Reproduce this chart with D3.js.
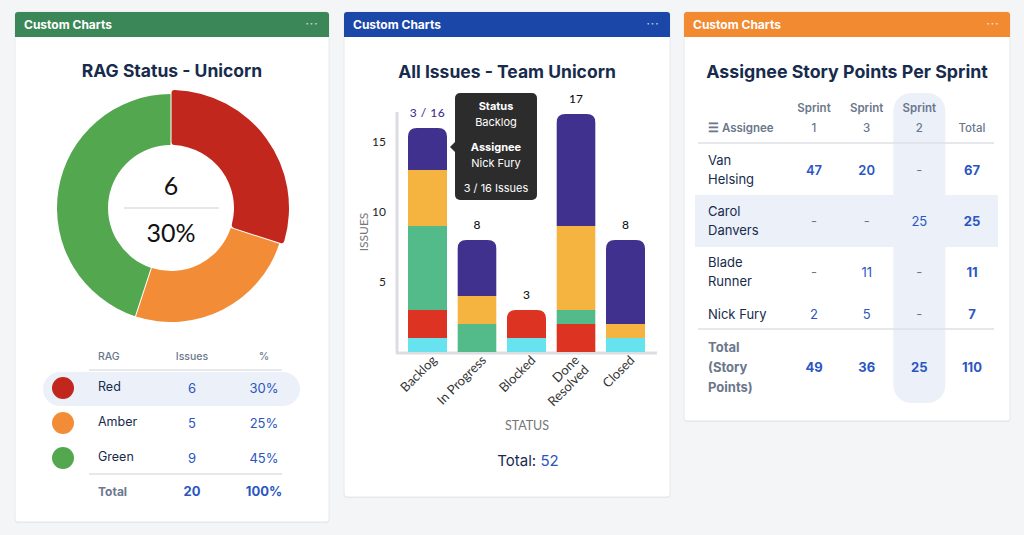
<!DOCTYPE html>
<html>
<head>
<meta charset="utf-8">
<script src="https://cdn.jsdelivr.net/npm/d3@7"></script>
<style>
  html, body { margin: 0; padding: 0; background: #f4f5f7; }
  svg { display: block; font-family: Inter, "Noto Sans", sans-serif; }
</style>
</head>
<body>
<svg id="svg" width="1024" height="535"></svg>
<script>
//Data
const RAG_NAMES = ["Red", "Amber", "Green"];
const RAG_COUNTS = [6, 5, 9];
const RAG_COLORS = ["#c1271d", "#f28c36", "#53a84f"];

const STATUSES = ["Backlog", "In Progress", "Blocked", "Done Resolved", "Closed"];
const STACK_KEYS = ["Blade Runner", "Van Helsing", "Carol Danvers", "Unassigned", "Nick Fury"];
const STACK_COLORS = ["#66e3ef", "#dd3322", "#53bb8a", "#f5b43f", "#40318f"];
const SERIES_BLADE = [1, 0, 1, 0, 1];
const SERIES_VAN = [2, 0, 2, 2, 0];
const SERIES_CAROL = [6, 2, 0, 1, 0];
const SERIES_UNASSIGNED = [4, 2, 0, 6, 1];
const SERIES_NICK = [3, 4, 0, 8, 6];
const Y_TICKS = [5, 10, 15];

const ASSIGNEES = ["Van Helsing", "Carol Danvers", "Blade Runner", "Nick Fury"];
const SPRINT_COLUMNS = ["Sprint 1", "Sprint 3", "Sprint 2"];
const SPRINT_1 = [47, null, null, 2];
const SPRINT_3 = [20, null, 11, 5];
const SPRINT_2 = [null, 25, null, null];

const BLUE = "#2b56c2";
const NAVY = "#172b4d";
const GREY = "#6b778c";
const CHART_FONT = "Lato, 'Open Sans', sans-serif";

const svg = d3.select("#svg");

//Cards
function drawCard(x, y, w, h, color)
{
    let g = svg.append("g");
    g.append("rect").attr("x", x).attr("y", y + 1).attr("width", w).attr("height", h)
        .attr("rx", 3).attr("fill", "#000").attr("opacity", 0.06);
    g.append("rect").attr("x", x).attr("y", y).attr("width", w).attr("height", h)
        .attr("rx", 3).attr("fill", "#fff").attr("stroke", "#e6e8eb");
    g.append("path")
        .attr("d", `M${x},${y + 25} V${y + 3} Q${x},${y} ${x + 3},${y} H${x + w - 3} Q${x + w},${y} ${x + w},${y + 3} V${y + 25} Z`)
        .attr("fill", color);
    g.append("text").attr("x", x + 9).attr("y", y + 17)
        .attr("fill", "#fff").attr("font-size", 12).attr("font-weight", 700)
        .text("Custom Charts");
    g.append("text").attr("x", x + w - 17).attr("y", y + 15).attr("text-anchor", "middle")
        .attr("fill", "#fff").attr("opacity", 0.7).attr("font-size", 10).attr("font-weight", 700)
        .attr("letter-spacing", 1).text("···");
}
drawCard(15, 12, 314, 510, "#3b8757");
drawCard(344, 12, 326, 485, "#1b47a9");
drawCard(684, 12, 326, 409, "#f28a32");

//RAG donut
function drawRag()
{
    let g = svg.append("g");
    g.append("text").attr("x", 172).attr("y", 77).attr("text-anchor", "middle")
        .attr("font-size", 17.5).attr("font-weight", 700).attr("fill", NAVY)
        .text("RAG Status - Unicorn");

    let pie = d3.pie().sort(null).padAngle(0.008)(RAG_COUNTS);
    let center = g.append("g").attr("transform", "translate(171, 208)");
    center.selectAll("path").data(pie).enter().append("path")
        .attr("d", (d, i) => d3.arc().innerRadius(63).outerRadius(i === 0 ? 118 : 114).cornerRadius(i === 0 ? 3 : 0)(d))
        .attr("fill", (d, i) => RAG_COLORS[i]);

    let total = d3.sum(RAG_COUNTS);
    center.append("text").attr("y", -13).attr("text-anchor", "middle")
        .attr("font-family", CHART_FONT).attr("font-size", 25).attr("fill", "#111")
        .text(RAG_COUNTS[0]);
    center.append("line").attr("x1", -47).attr("x2", 48).attr("y1", 0).attr("y2", 0)
        .attr("stroke", "#cfcfcf").attr("stroke-width", 1.2);
    center.append("text").attr("y", 34).attr("text-anchor", "middle")
        .attr("font-family", CHART_FONT).attr("font-size", 25).attr("fill", "#111")
        .text(Math.round(RAG_COUNTS[0] / total * 100) + "%");

    //Legend table
    let rowY = d3.scalePoint().domain(RAG_NAMES).range([388, 458]);
    g.append("rect").attr("x", 43).attr("y", 372).attr("width", 257).attr("height", 34)
        .attr("rx", 17).attr("fill", "#ecf1f9");
    [["RAG", 98, "start"], ["Issues", 192, "middle"], ["%", 264, "middle"]].forEach(h => {
        g.append("text").attr("x", h[1]).attr("y", 360).attr("text-anchor", h[2])
            .attr("font-size", 10.5).attr("font-weight", 500).attr("fill", GREY).text(h[0]);
    });
    g.append("line").attr("x1", 89).attr("x2", 282).attr("y1", 370).attr("y2", 370).attr("stroke", "#dfe1e6").attr("stroke-width", 1.5);
    g.append("line").attr("x1", 89).attr("x2", 282).attr("y1", 474).attr("y2", 474).attr("stroke", "#dfe1e6").attr("stroke-width", 1.5);

    RAG_NAMES.forEach((name, i) => {
        let y = rowY(name);
        g.append("circle").attr("cx", 63).attr("cy", y).attr("r", 11).attr("fill", RAG_COLORS[i]);
        g.append("text").attr("x", 98).attr("y", y + 3).attr("font-size", 12.5).attr("fill", NAVY).text(name);
        g.append("text").attr("x", 192).attr("y", y + 5).attr("text-anchor", "middle")
            .attr("font-size", 13).attr("fill", BLUE).text(RAG_COUNTS[i]);
        g.append("text").attr("x", 264).attr("y", y + 5).attr("text-anchor", "middle")
            .attr("font-size", 13).attr("fill", BLUE).text(Math.round(RAG_COUNTS[i] / total * 100) + "%");
    });
    g.append("text").attr("x", 98).attr("y", 496).attr("font-size", 12).attr("font-weight", 700).attr("fill", GREY).text("Total");
    g.append("text").attr("x", 192).attr("y", 496).attr("text-anchor", "middle").attr("font-size", 13).attr("font-weight", 700).attr("fill", BLUE).text(total);
    g.append("text").attr("x", 264).attr("y", 496).attr("text-anchor", "middle").attr("font-size", 13).attr("font-weight", 700).attr("fill", BLUE).text("100%");
}

//Stacked bar chart
function topRounded(x, y, w, h, r)
{
    return `M${x},${y + h} V${y + r} Q${x},${y} ${x + r},${y} H${x + w - r} Q${x + w},${y} ${x + w},${y + r} V${y + h} Z`;
}

function drawBars()
{
    let g = svg.append("g");
    g.append("text").attr("x", 507).attr("y", 78).attr("text-anchor", "middle")
        .attr("font-size", 17.5).attr("font-weight", 700).attr("fill", NAVY)
        .text("All Issues - Team Unicorn");

    let rows = STATUSES.map((s, i) => ({
        status: s,
        "Blade Runner": SERIES_BLADE[i],
        "Van Helsing": SERIES_VAN[i],
        "Carol Danvers": SERIES_CAROL[i],
        "Unassigned": SERIES_UNASSIGNED[i],
        "Nick Fury": SERIES_NICK[i]
    }));
    let totals = rows.map(r => d3.sum(STACK_KEYS, k => r[k]));
    let stack = d3.stack().keys(STACK_KEYS)(rows);

    let x = d3.scaleBand().domain(STATUSES).range([401.5, 651.5]).paddingInner(0.21).paddingOuter(0.13);
    let y = d3.scaleLinear().domain([0, 17]).range([352, 114]);

    //axis lines
    g.append("line").attr("x1", 397).attr("x2", 397).attr("y1", 112).attr("y2", 353).attr("stroke", "#dcdde0").attr("stroke-width", 3);
    g.append("line").attr("x1", 396).attr("x2", 657).attr("y1", 353).attr("y2", 353).attr("stroke", "#dcdde0").attr("stroke-width", 3);

    let yAxis = g.append("g").attr("transform", "translate(389, 0)")
        .call(d3.axisLeft(y).tickValues(Y_TICKS).tickSize(0));
    yAxis.select(".domain").remove();
    yAxis.selectAll("text").attr("font-family", CHART_FONT).attr("font-size", 12).attr("fill", "#222");

    //clip paths
    let defs = svg.append("defs");
    STATUSES.forEach((s, i) => {
        defs.append("clipPath").attr("id", "bar" + i).append("path")
            .attr("d", topRounded(x(s), y(totals[i]), x.bandwidth(), y(0) - y(totals[i]), 9));
    });

    stack.forEach((layer, k) => {
        g.append("g").selectAll("rect").data(layer).enter().append("rect")
            .attr("clip-path", (d, i) => `url(#bar${i})`)
            .attr("x", d => x(d.data.status))
            .attr("y", d => y(d[1]))
            .attr("width", x.bandwidth())
            .attr("height", d => y(d[0]) - y(d[1]))
            .attr("fill", STACK_COLORS[k]);
    });

    //value labels
    STATUSES.forEach((s, i) => {
        let hovered = i === 0;
        g.append("text").attr("x", x(s) + x.bandwidth() / 2).attr("y", y(totals[i]) - 11)
            .attr("text-anchor", "middle").attr("font-family", CHART_FONT).attr("font-size", 12)
            .attr("font-weight", 500).attr("letter-spacing", hovered ? 0.5 : 0)
            .attr("fill", hovered ? "#3b3591" : "#111")
            .text(hovered ? SERIES_NICK[0] + " / " + totals[0] : totals[i]);
    });

    //x labels
    STATUSES.forEach((s, i) => {
        let lines = s === "Done Resolved" ? ["Done", "Resolved"] : [s];
        let cx = x(s) + x.bandwidth() / 2 + (lines.length > 1 ? 4 : 10);
        let t = g.append("text").attr("transform", `translate(${cx}, 361) rotate(-45)`)
            .attr("text-anchor", "end").attr("font-family", CHART_FONT).attr("font-size", 13).attr("fill", "#333");
        lines.forEach((l, j) => {
            t.append("tspan").attr("x", 0).attr("dy", j === 0 ? 0 : "1.05em").text(l);
        });
    });

    g.append("text").attr("transform", "translate(368, 232) rotate(-90)").attr("text-anchor", "middle")
        .attr("font-family", CHART_FONT).attr("font-size", 12).attr("fill", "#777").text("ISSUES");
    g.append("text").attr("x", 527).attr("y", 430).attr("text-anchor", "middle")
        .attr("font-family", CHART_FONT).attr("font-size", 12.5).attr("fill", "#777").text("STATUS");

    let tot = g.append("text").attr("x", 528).attr("y", 466).attr("text-anchor", "middle").attr("font-size", 15);
    tot.append("tspan").attr("fill", NAVY).text("Total: ");
    tot.append("tspan").attr("fill", BLUE).text(d3.sum(totals));

    //tooltip
    let tip = g.append("g");
    tip.append("rect").attr("x", 455).attr("y", 93).attr("width", 82).attr("height", 107).attr("rx", 5).attr("fill", "#2c2c2c");
    tip.append("path").attr("d", "M455,142 L450,147 L455,152 Z").attr("fill", "#2c2c2c");
    [["Status", 110, 700], ["Backlog", 126, 400], ["Assignee", 151, 700], ["Nick Fury", 167, 400], [SERIES_NICK[0] + " / " + totals[0] + " Issues", 192, 400]]
        .forEach(t => {
            tip.append("text").attr("x", 496).attr("y", t[1]).attr("text-anchor", "middle")
                .attr("font-size", 11).attr("font-weight", t[2]).attr("fill", "#fff").text(t[0]);
        });
}

//Story points table
function drawTable()
{
    let g = svg.append("g");
    g.append("text").attr("x", 847).attr("y", 78).attr("text-anchor", "middle")
        .attr("font-size", 17.8).attr("font-weight", 700).attr("fill", NAVY)
        .text("Assignee Story Points Per Sprint");

    let columns = SPRINT_COLUMNS.concat(["Total"]);
    let colX = d3.scalePoint().domain(columns).range([814, 972]);
    let sprintValues = [SPRINT_1, SPRINT_3, SPRINT_2];
    let rowTotals = ASSIGNEES.map((a, i) => d3.sum(sprintValues, s => s[i] || 0));
    let colTotals = sprintValues.map(s => d3.sum(s));
    let grand = d3.sum(rowTotals);

    //highlights
    g.append("rect").attr("x", colX("Sprint 2") - 26).attr("y", 93).attr("width", 52).attr("height", 310).attr("rx", 18).attr("fill", "#ebf0f9");
    g.append("rect").attr("x", 695).attr("y", 195).attr("width", 303).attr("height", 52).attr("fill", "#ebf0f9");

    //header
    SPRINT_COLUMNS.forEach(c => {
        let parts = c.split(" ");
        g.append("text").attr("x", colX(c)).attr("y", 112).attr("text-anchor", "middle")
            .attr("font-size", 11.5).attr("font-weight", 600).attr("fill", GREY).text(parts[0]);
        g.append("text").attr("x", colX(c)).attr("y", 132).attr("text-anchor", "middle")
            .attr("font-size", 11.5).attr("font-weight", 500).attr("fill", GREY).text(parts[1]);
    });
    g.append("text").attr("x", colX("Total")).attr("y", 132).attr("text-anchor", "middle")
        .attr("font-size", 11.5).attr("font-weight", 500).attr("fill", GREY).text("Total");
    g.append("text").attr("x", 708).attr("y", 132).attr("font-size", 11.5).attr("font-weight", 600).attr("fill", GREY).text("☰ Assignee");
    g.append("line").attr("x1", 698).attr("x2", 994).attr("y1", 143).attr("y2", 143).attr("stroke", "#dfe1e6").attr("stroke-width", 1.5);
    g.append("line").attr("x1", 698).attr("x2", 994).attr("y1", 329).attr("y2", 329).attr("stroke", "#dfe1e6").attr("stroke-width", 1.5);

    //rows: [value baseline, name line baselines]
    const ROW_LAYOUT = [[175, [165, 184]], [226, [216, 235]], [277, [267, 286]], [319, [319]]];
    ASSIGNEES.forEach((a, i) => {
        let lay = ROW_LAYOUT[i];
        let words = a.split(" ");
        let nameLines = lay[1].length > 1 ? words : [a];
        nameLines.forEach((w, j) => {
            g.append("text").attr("x", 708).attr("y", lay[1][j]).attr("font-size", 13).attr("fill", NAVY).text(w);
        });
        sprintValues.forEach((s, k) => {
            let v = s[i];
            g.append("text").attr("x", colX(SPRINT_COLUMNS[k])).attr("y", lay[0]).attr("text-anchor", "middle")
                .attr("font-size", 13).attr("font-weight", i === 0 && v !== null ? 600 : 400)
                .attr("fill", v === null ? GREY : BLUE).text(v === null ? "-" : v);
        });
        g.append("text").attr("x", colX("Total")).attr("y", lay[0]).attr("text-anchor", "middle")
            .attr("font-size", 13).attr("font-weight", 700).attr("fill", BLUE).text(rowTotals[i]);
    });

    ["Total", "(Story", "Points)"].forEach((w, j) => {
        g.append("text").attr("x", 708).attr("y", 352 + j * 20).attr("font-size", 13).attr("font-weight", 700).attr("fill", GREY).text(w);
    });
    colTotals.forEach((v, k) => {
        g.append("text").attr("x", colX(SPRINT_COLUMNS[k])).attr("y", 372).attr("text-anchor", "middle")
            .attr("font-size", 13).attr("font-weight", 700).attr("fill", BLUE).text(v);
    });
    g.append("text").attr("x", colX("Total")).attr("y", 372).attr("text-anchor", "middle")
        .attr("font-size", 13).attr("font-weight", 700).attr("fill", BLUE).text(grand);
}

drawRag();
drawBars();
drawTable();
</script>
</body>
</html>
